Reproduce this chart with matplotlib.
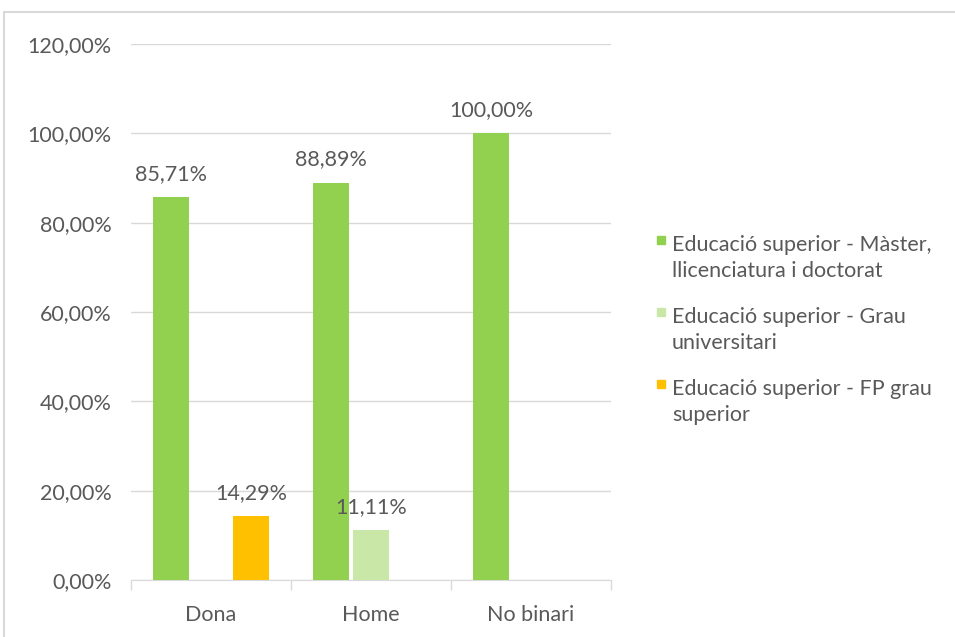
import numpy as np
import matplotlib
matplotlib.use("Agg")
import matplotlib.pyplot as plt
from matplotlib.patches import Rectangle

plt.rcParams['font.family'] = ['Lato', 'DejaVu Sans']

# categories and series (percent); nan = no bar
categories = ["Dona", "Home", "No binari"]
series_names = [
    "Educació superior - Màster,\nllicenciatura i doctorat",
    "Educació superior - Grau\nuniversitari",
    "Educació superior - FP grau\nsuperior",
]
master = [85.71, 88.89, 100.00]
grau = [np.nan, 11.11, np.nan]
fp = [14.29, np.nan, np.nan]
colors = ["#92D050", "#C9E7A7", "#FFC000"]
yticks = [0, 20, 40, 60, 80, 100, 120]

text_col = "#595959"
grid_col = "#D9D9D9"
fs = 15.5
W, H = 955, 637

fig = plt.figure(figsize=(9.55, 6.37), dpi=100)
fig.patches.append(Rectangle((4 / W, -0.05), 1.1, 1 - 12 / H + 0.05, transform=fig.transFigure,
                             fill=False, edgecolor=grid_col, linewidth=1.5))
ax = fig.add_axes([0.1372, 0.0895, 0.5026, 0.8415])

x = np.arange(len(categories))
width = 0.225
offsets = [-0.25, 0.0, 0.25]
for vals, off, col, name in zip([master, grau, fp], offsets, colors, series_names):
    bars = ax.bar(x + off, vals, width=width, color=col, label=name, zorder=3)
    for b, v in zip(bars, vals):
        if not np.isnan(v):
            ax.text(b.get_x() + b.get_width() / 2, v + 3, f"{v:.2f}%".replace(".", ","),
                    ha="center", va="bottom", fontsize=fs, color=text_col, zorder=4)

ax.set_xlim(-0.5, 2.5)
ax.set_ylim(0, 120)
ax.set_yticks(yticks)
ax.set_yticklabels([f"{t:.2f}%".replace(".", ",") for t in yticks])
ax.set_xticks(x)
ax.set_xticklabels(categories)
ax.tick_params(axis="y", length=0, pad=14, labelsize=fs, labelcolor=text_col)
ax.tick_params(axis="x", length=0, pad=18, labelsize=fs, labelcolor=text_col)
ax.set_xticks([-0.5, 0.5, 1.5, 2.5], minor=True)
ax.tick_params(axis="x", which="minor", length=7, color=grid_col, width=1)
ax.grid(axis="y", color=grid_col, linewidth=1, zorder=0)
for s in ["top", "right", "left"]:
    ax.spines[s].set_visible(False)
ax.spines["bottom"].set_color(grid_col)

# legend drawn by hand: marker sits on the first line of each entry
for i, (name, col) in enumerate(zip(series_names, colors)):
    y1 = 243 + 72 * i
    fig.patches.append(Rectangle((657 / W, 1 - (y1 + 1) / H), 8 / W, 8 / H,
                                 transform=fig.transFigure, color=col))
    for j, line in enumerate(name.split("\n")):
        fig.text(672 / W, 1 - (y1 + 26 * j) / H, line, fontsize=fs, color=text_col,
                 ha="left", va="center_baseline")

fig.savefig("out.png", dpi=100)
